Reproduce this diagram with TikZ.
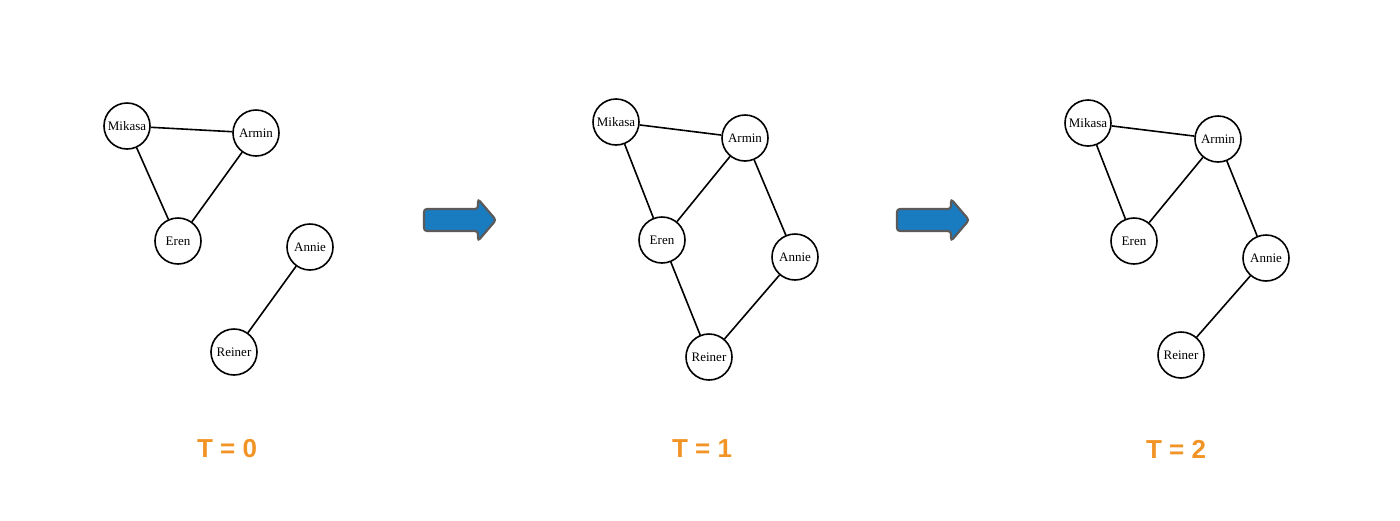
\documentclass[tikz,border=0pt]{standalone}
\usepackage{fontspec}
\setmainfont{Liberation Serif}
\newfontfamily\labfont{Liberation Sans}
\definecolor{tor}{HTML}{F29425}
\definecolor{arblue}{HTML}{1A7CC0}
\definecolor{argray}{HTML}{5A5A5A}
\tikzset{
  pnode/.style={circle,draw=black,line width=1.6pt,fill=white,minimum size=46pt,inner sep=0pt,font=\fontsize{13}{15}\selectfont},
  pedge/.style={line width=1.6pt,black},
  tlabel/.style={text=tor,font=\labfont\bfseries\fontsize{26}{30}\selectfont},
  bigarrow/.style={fill=arblue,draw=argray,line width=2.2pt,rounded corners=3pt}
}
\begin{document}
\begin{tikzpicture}[x=1pt,y=-1pt]
\useasboundingbox (0,0) rectangle (1400,520);
% Panel 1
\node[pnode] (m1) at (127,126) {Mikasa};
\node[pnode] (a1) at (256,133) {Armin};
\node[pnode] (e1) at (178,241) {Eren};
\node[pnode] (n1) at (310,247) {Annie};
\node[pnode] (r1) at (234,352) {Reiner};
% Panel 2
\node[pnode] (m2) at (616,122) {Mikasa};
\node[pnode] (a2) at (745,138) {Armin};
\node[pnode] (e2) at (662,240) {Eren};
\node[pnode] (n2) at (795,257) {Annie};
\node[pnode] (r2) at (709,357) {Reiner};
% Panel 3
\node[pnode] (m3) at (1088,123) {Mikasa};
\node[pnode] (a3) at (1218,139) {Armin};
\node[pnode] (e3) at (1134,241) {Eren};
\node[pnode] (n3) at (1266,258) {Annie};
\node[pnode] (r3) at (1181,355) {Reiner};
% edges
\draw[pedge] (m1) -- (a1);
\draw[pedge] (m1) -- (e1);
\draw[pedge] (a1) -- (e1);
\draw[pedge] (n1) -- (r1);
\draw[pedge] (m2) -- (a2);
\draw[pedge] (m2) -- (e2);
\draw[pedge] (a2) -- (e2);
\draw[pedge] (a2) -- (n2);
\draw[pedge] (e2) -- (r2);
\draw[pedge] (n2) -- (r2);
\draw[pedge] (m3) -- (a3);
\draw[pedge] (m3) -- (e3);
\draw[pedge] (a3) -- (e3);
\draw[pedge] (a3) -- (n3);
\draw[pedge] (n3) -- (r3);
% arrows
\draw[bigarrow] (424,209) -- (478,209) -- (478,199) -- (496,220) -- (478,241) -- (478,231) -- (424,231) -- cycle;
\draw[bigarrow] (897,209) -- (951,209) -- (951,199) -- (969,220) -- (951,241) -- (951,231) -- (897,231) -- cycle;
% labels
\node[tlabel] (t0) at (227,449) {T = 0};
\node[tlabel] (t1) at (702,449) {T = 1};
\node[tlabel] (t2) at (1176,449) {T = 2};
\end{tikzpicture}
\end{document}
